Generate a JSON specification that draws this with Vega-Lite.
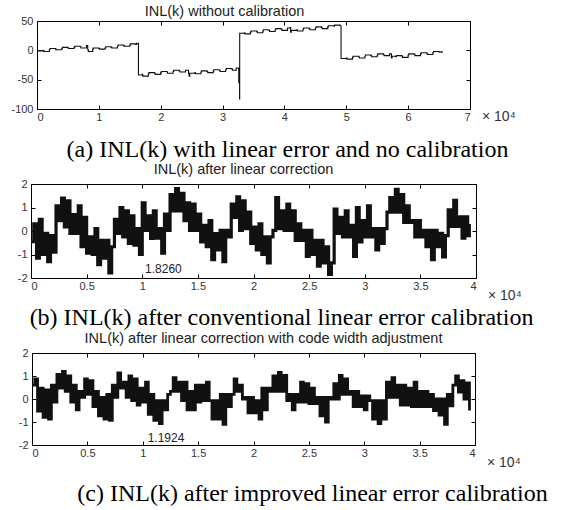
{
  "$schema": "https://vega.github.io/schema/vega-lite/v6.json",
  "background": "white",
  "padding": {"left": 10, "top": 3, "right": 0, "bottom": 0},
  "bounds": "flush",
  "center": true,
  "spacing": 75,
  "config": {
    "view": {"stroke": "#000", "strokeWidth": 1},
    "axis": {"labelFont": "Liberation Sans", "labelFontSize": 11, "labelColor": "#333", "tickColor": "#000", "tickSize": -4, "domain": false, "grid": false, "titleFont": "Liberation Serif", "titleFontSize": 24, "titleFontWeight": "normal", "titleColor": "#000"},
    "axisBottom": {"labelPadding": 6},
    "axisLeft": {"labelPadding": 8},
    "title": {"font": "Liberation Sans", "fontSize": 14.5, "fontWeight": "normal", "color": "#222", "anchor": "middle", "frame": "group"}
  },
  "datasets": {
    "p1": [
      {"x":0,"y":-1},{"x":0.1,"y":0},{"x":0.11,"y":-2},{"x":0.2,"y":1},{"x":0.21,"y":3},{"x":0.3,"y":2},{"x":0.31,"y":1},{"x":0.4,"y":3},{"x":0.41,"y":5},{"x":0.5,"y":4},{"x":0.51,"y":3},{"x":0.6,"y":5},{"x":0.61,"y":7},{"x":0.7,"y":6},{"x":0.71,"y":4},{"x":0.8,"y":8},{"x":0.82,"y":1},{"x":0.83,"y":-2},{"x":0.9,"y":2},{"x":0.91,"y":4},{"x":1.0,"y":3},{"x":1.01,"y":2},{"x":1.1,"y":4},{"x":1.11,"y":6},{"x":1.2,"y":5},{"x":1.21,"y":4},{"x":1.3,"y":7},{"x":1.31,"y":9},{"x":1.4,"y":8},{"x":1.41,"y":7},{"x":1.5,"y":9},{"x":1.51,"y":11},{"x":1.6,"y":10},{"x":1.61,"y":12},
      {"x":1.64,"y":-42},{"x":1.7,"y":-41},{"x":1.71,"y":-44},{"x":1.8,"y":-40},{"x":1.81,"y":-38},{"x":1.9,"y":-39},{"x":1.91,"y":-41},{"x":2.0,"y":-38},{"x":2.01,"y":-36},{"x":2.1,"y":-37},{"x":2.11,"y":-39},{"x":2.2,"y":-36},{"x":2.21,"y":-34},{"x":2.3,"y":-35},{"x":2.31,"y":-37},{"x":2.4,"y":-34},{"x":2.45,"y":-40},{"x":2.46,"y":-44},{"x":2.47,"y":-39},{"x":2.55,"y":-38},{"x":2.56,"y":-40},{"x":2.65,"y":-37},{"x":2.66,"y":-35},{"x":2.75,"y":-36},{"x":2.76,"y":-38},{"x":2.85,"y":-35},{"x":2.86,"y":-33},{"x":2.95,"y":-34},{"x":2.96,"y":-36},{"x":3.05,"y":-33},{"x":3.06,"y":-31},{"x":3.15,"y":-32},{"x":3.16,"y":-34},{"x":3.22,"y":-30},
      {"x":3.26,"y":-34},{"x":3.262,"y":-55},{"x":3.264,"y":-33},{"x":3.266,"y":-54},{"x":3.268,"y":-34},{"x":3.27,"y":-52},{"x":3.275,"y":-83},{"x":3.2768,"y":29},
      {"x":3.35,"y":30},{"x":3.36,"y":28},{"x":3.45,"y":31},{"x":3.46,"y":33},{"x":3.55,"y":32},{"x":3.56,"y":30},{"x":3.65,"y":33},{"x":3.66,"y":35},{"x":3.75,"y":34},{"x":3.76,"y":32},{"x":3.85,"y":35},{"x":3.86,"y":37},{"x":3.95,"y":36},{"x":3.96,"y":34},{"x":4.05,"y":38},{"x":4.09,"y":39},{"x":4.1,"y":31},{"x":4.11,"y":34},{"x":4.2,"y":35},{"x":4.21,"y":33},{"x":4.3,"y":36},{"x":4.31,"y":38},{"x":4.4,"y":37},{"x":4.41,"y":35},{"x":4.5,"y":38},{"x":4.51,"y":40},{"x":4.6,"y":39},{"x":4.61,"y":37},{"x":4.7,"y":40},{"x":4.71,"y":42},{"x":4.8,"y":41},{"x":4.81,"y":43},{"x":4.9,"y":42},
      {"x":4.9152,"y":-14},{"x":5.0,"y":-13},{"x":5.01,"y":-15},{"x":5.1,"y":-12},{"x":5.11,"y":-10},{"x":5.2,"y":-11},{"x":5.21,"y":-13},{"x":5.3,"y":-10},{"x":5.31,"y":-8},{"x":5.4,"y":-9},{"x":5.41,"y":-11},{"x":5.5,"y":-8},{"x":5.51,"y":-6},{"x":5.6,"y":-7},{"x":5.61,"y":-9},{"x":5.7,"y":-6},{"x":5.73,"y":-13},{"x":5.74,"y":-10},{"x":5.8,"y":-11},{"x":5.81,"y":-9},{"x":5.9,"y":-10},{"x":5.91,"y":-12},{"x":6.0,"y":-8},{"x":6.01,"y":-6},{"x":6.1,"y":-7},{"x":6.11,"y":-9},{"x":6.2,"y":-6},{"x":6.21,"y":-4},{"x":6.3,"y":-5},{"x":6.31,"y":-7},{"x":6.4,"y":-4},{"x":6.41,"y":-2},{"x":6.5,"y":-3},{"x":6.55,"y":-1}
    ],
    "p2": [
      {"x":0,"y":-0.45},{"x":0.025,"y":0.3},{"x":0.05,"y":-1.15},{"x":0.075,"y":0.5},{"x":0.1,"y":-1.0},{"x":0.125,"y":-0.1},{"x":0.15,"y":-1.3},{"x":0.175,"y":-0.2},{"x":0.2,"y":-0.9},{"x":0.225,"y":1.07},{"x":0.25,"y":0.44},{"x":0.275,"y":1.4},{"x":0.3,"y":0.17},{"x":0.325,"y":1.28},{"x":0.35,"y":-0.1},{"x":0.375,"y":0.7},{"x":0.4,"y":-0.1},{"x":0.425,"y":1.07},{"x":0.45,"y":-0.67},{"x":0.475,"y":0.58},{"x":0.5,"y":-0.94},{"x":0.525,"y":-0.25},{"x":0.55,"y":-1.0},{"x":0.575,"y":0.1},{"x":0.6,"y":-1.43},{"x":0.625,"y":-0.4},{"x":0.65,"y":-1.15},{"x":0.675,"y":-0.4},{"x":0.7,"y":-1.78},{"x":0.725,"y":-0.67},{"x":0.75,"y":0.5},{"x":0.775,"y":-0.1},{"x":0.8,"y":1.0},{"x":0.825,"y":-0.25},{"x":0.85,"y":0.86},{"x":0.875,"y":-0.53},{"x":0.9,"y":0.65},{"x":0.925,"y":-0.6},{"x":0.95,"y":0.1},{"x":0.975,"y":-1.0},
      {"x":1.0,"y":1.2},{"x":1.025,"y":0.03},{"x":1.05,"y":0.65},{"x":1.075,"y":-0.32},{"x":1.1,"y":0.86},{"x":1.125,"y":-0.3},{"x":1.15,"y":0.1},{"x":1.175,"y":-0.94},{"x":1.2,"y":0.72},{"x":1.225,"y":0.03},{"x":1.25,"y":1.55},{"x":1.275,"y":0.86},{"x":1.3,"y":1.8},{"x":1.325,"y":0.86},{"x":1.35,"y":1.6},{"x":1.375,"y":0.44},{"x":1.4,"y":1.2},{"x":1.425,"y":0.03},{"x":1.45,"y":1.14},{"x":1.475,"y":0.03},{"x":1.5,"y":0.72},{"x":1.525,"y":-0.46},{"x":1.55,"y":0.24},{"x":1.575,"y":-0.67},{"x":1.6,"y":0.44},{"x":1.625,"y":-1.22},{"x":1.65,"y":-0.11},{"x":1.675,"y":-0.8},{"x":1.7,"y":0.03},{"x":1.725,"y":-1.3},{"x":1.75,"y":0.03},{"x":1.775,"y":-0.25},{"x":1.8,"y":1.14},{"x":1.825,"y":0.58},{"x":1.85,"y":1.45},{"x":1.875,"y":0.03},{"x":1.9,"y":1.28},{"x":1.925,"y":0.1},{"x":1.95,"y":0.8},{"x":1.975,"y":-0.53},
      {"x":2.0,"y":0.17},{"x":2.025,"y":-0.8},{"x":2.05,"y":0.3},{"x":2.075,"y":-1.0},{"x":2.1,"y":-0.25},{"x":2.125,"y":-1.36},{"x":2.15,"y":-0.25},{"x":2.175,"y":0.03},{"x":2.2,"y":1.42},{"x":2.225,"y":0.1},{"x":2.25,"y":0.86},{"x":2.275,"y":0.03},{"x":2.3,"y":1.14},{"x":2.325,"y":0.03},{"x":2.35,"y":0.86},{"x":2.375,"y":-0.4},{"x":2.4,"y":0.3},{"x":2.425,"y":-0.4},{"x":2.45,"y":0.03},{"x":2.475,"y":-1.08},{"x":2.5,"y":0.03},{"x":2.525,"y":-1.0},{"x":2.55,"y":-0.4},{"x":2.575,"y":-1.5},{"x":2.6,"y":-0.4},{"x":2.625,"y":-1.36},{"x":2.65,"y":-0.67},{"x":2.675,"y":-1.85},{"x":2.7,"y":-1.36},{"x":2.725,"y":0.93},{"x":2.75,"y":-0.1},{"x":2.775,"y":0.58},{"x":2.8,"y":-0.25},{"x":2.825,"y":0.86},{"x":2.85,"y":-0.25},{"x":2.875,"y":0.24},{"x":2.9,"y":-1.08},{"x":2.925,"y":1.0},{"x":2.95,"y":-0.46},{"x":2.975,"y":0.44},
      {"x":3.0,"y":-0.25},{"x":3.025,"y":1.07},{"x":3.05,"y":-0.25},{"x":3.075,"y":0.1},{"x":3.1,"y":-0.8},{"x":3.125,"y":0.1},{"x":3.15,"y":-0.53},{"x":3.175,"y":0.1},{"x":3.2,"y":0.8},{"x":3.225,"y":1.42},{"x":3.25,"y":0.8},{"x":3.275,"y":1.77},{"x":3.3,"y":0.8},{"x":3.325,"y":1.55},{"x":3.35,"y":0.37},{"x":3.375,"y":1.07},{"x":3.4,"y":0.37},{"x":3.425,"y":0.44},{"x":3.45,"y":-0.25},{"x":3.475,"y":0.44},{"x":3.5,"y":-0.25},{"x":3.525,"y":0.03},{"x":3.55,"y":-0.67},{"x":3.575,"y":0.03},{"x":3.6,"y":-1.22},{"x":3.625,"y":0.03},{"x":3.65,"y":-0.67},{"x":3.675,"y":-0.1},{"x":3.7,"y":-1.1},{"x":3.725,"y":-0.2},{"x":3.75,"y":0.9},{"x":3.775,"y":0.2},{"x":3.8,"y":1.3},{"x":3.825,"y":0.2},{"x":3.85,"y":0.6},{"x":3.875,"y":-0.3},{"x":3.9,"y":0.6},{"x":3.925,"y":-0.2},{"x":3.94,"y":0.3}
    ],
    "p3": [
      {"x":0,"y":0.6},{"x":0.025,"y":0.87},{"x":0.05,"y":-0.53},{"x":0.075,"y":0.47},{"x":0.1,"y":-0.8},{"x":0.125,"y":0.4},{"x":0.15,"y":-0.87},{"x":0.175,"y":0.6},{"x":0.2,"y":-0.13},{"x":0.225,"y":1.07},{"x":0.25,"y":0.47},{"x":0.275,"y":1.2},{"x":0.3,"y":0.33},{"x":0.325,"y":1.0},{"x":0.35,"y":-0.13},{"x":0.375,"y":0.6},{"x":0.4,"y":-0.47},{"x":0.425,"y":0.33},{"x":0.45,"y":0.07},{"x":0.475,"y":0.87},{"x":0.5,"y":0.2},{"x":0.525,"y":0.8},{"x":0.55,"y":-0.33},{"x":0.575,"y":0.33},{"x":0.6,"y":-0.73},{"x":0.625,"y":0.07},{"x":0.65,"y":-0.87},{"x":0.675,"y":0.2},{"x":0.7,"y":-0.93},{"x":0.725,"y":0.6},{"x":0.75,"y":0.07},{"x":0.775,"y":1.13},{"x":0.8,"y":0.47},{"x":0.825,"y":0.73},{"x":0.85,"y":0.07},{"x":0.875,"y":1.0},{"x":0.9,"y":-0.07},{"x":0.925,"y":0.87},{"x":0.95,"y":-0.27},{"x":0.975,"y":0.47},
      {"x":1.0,"y":-0.13},{"x":1.025,"y":0.73},{"x":1.05,"y":-0.67},{"x":1.075,"y":0.2},{"x":1.1,"y":-0.93},{"x":1.125,"y":-0.07},{"x":1.15,"y":-1.07},{"x":1.175,"y":-0.07},{"x":1.2,"y":-0.47},{"x":1.225,"y":0.2},{"x":1.25,"y":0.33},{"x":1.275,"y":0.93},{"x":1.3,"y":0.33},{"x":1.325,"y":0.73},{"x":1.35,"y":-0.07},{"x":1.375,"y":0.73},{"x":1.4,"y":-0.47},{"x":1.425,"y":0.33},{"x":1.45,"y":-0.47},{"x":1.475,"y":0.6},{"x":1.5,"y":-0.13},{"x":1.525,"y":0.6},{"x":1.55,"y":-0.07},{"x":1.575,"y":0.73},{"x":1.6,"y":-0.07},{"x":1.625,"y":-0.87},{"x":1.65,"y":-0.07},{"x":1.675,"y":-0.87},{"x":1.7,"y":0.2},{"x":1.725,"y":-1.1},{"x":1.75,"y":0.2},{"x":1.775,"y":-0.33},{"x":1.8,"y":0.2},{"x":1.825,"y":0.87},{"x":1.85,"y":0.33},{"x":1.875,"y":0.6},{"x":1.9,"y":0.0},{"x":1.925,"y":0.07},{"x":1.95,"y":-0.6},{"x":1.975,"y":0.07},
      {"x":2.0,"y":-0.6},{"x":2.025,"y":-0.07},{"x":2.05,"y":-0.87},{"x":2.075,"y":0.47},{"x":2.1,"y":-0.47},{"x":2.125,"y":0.47},{"x":2.15,"y":0.33},{"x":2.175,"y":1.0},{"x":2.2,"y":0.33},{"x":2.225,"y":1.16},{"x":2.25,"y":0.33},{"x":2.275,"y":1.03},{"x":2.3,"y":-0.07},{"x":2.325,"y":0.2},{"x":2.35,"y":-0.47},{"x":2.375,"y":0.2},{"x":2.4,"y":-0.13},{"x":2.425,"y":0.73},{"x":2.45,"y":-0.13},{"x":2.475,"y":0.67},{"x":2.5,"y":-0.2},{"x":2.525,"y":0.47},{"x":2.55,"y":-0.2},{"x":2.575,"y":0.07},{"x":2.6,"y":-0.73},{"x":2.625,"y":0.07},{"x":2.65,"y":-1.0},{"x":2.675,"y":0.07},{"x":2.7,"y":0.0},{"x":2.725,"y":0.67},{"x":2.75,"y":0.0},{"x":2.775,"y":1.03},{"x":2.8,"y":0.2},{"x":2.825,"y":0.87},{"x":2.85,"y":0.2},{"x":2.875,"y":0.33},{"x":2.9,"y":-0.33},{"x":2.925,"y":0.33},{"x":2.95,"y":-0.33},{"x":2.975,"y":0.13},
      {"x":3.0,"y":-0.47},{"x":3.025,"y":0.13},{"x":3.05,"y":-0.07},{"x":3.075,"y":-0.87},{"x":3.1,"y":-0.07},{"x":3.125,"y":-1.07},{"x":3.15,"y":-0.07},{"x":3.175,"y":-0.87},{"x":3.2,"y":0.73},{"x":3.225,"y":0.07},{"x":3.25,"y":0.93},{"x":3.275,"y":0.07},{"x":3.3,"y":0.6},{"x":3.325,"y":-0.27},{"x":3.35,"y":0.6},{"x":3.375,"y":-0.27},{"x":3.4,"y":0.47},{"x":3.425,"y":-0.33},{"x":3.45,"y":0.73},{"x":3.475,"y":-0.33},{"x":3.5,"y":0.33},{"x":3.525,"y":-0.33},{"x":3.55,"y":0.33},{"x":3.575,"y":-0.33},{"x":3.6,"y":0.2},{"x":3.625,"y":-0.5},{"x":3.65,"y":0.0},{"x":3.675,"y":-0.7},{"x":3.7,"y":0.0},{"x":3.725,"y":-1.1},{"x":3.75,"y":0.2},{"x":3.775,"y":-0.3},{"x":3.8,"y":0.6},{"x":3.825,"y":1.0},{"x":3.85,"y":0.3},{"x":3.875,"y":0.8},{"x":3.9,"y":0.0},{"x":3.925,"y":0.7},{"x":3.95,"y":-0.5}
    ]
  },
  "vconcat": [
    {
      "width": 433, "height": 88,
      "title": {"text": "INL(k) without calibration", "dx": -29, "offset": -4},
      "layer": [
        {
          "data": {"name": "p1"},
          "mark": {"type": "line", "interpolate": "step-after", "color": "#111", "strokeWidth": 1.1},
          "encoding": {
            "x": {"field": "x", "type": "quantitative", "scale": {"domain": [0, 7], "nice": false, "zero": false},
                  "axis": {"orient": "bottom", "values": [0,1,2,3,4,5,6,7], "labelExpr": "'' + datum.value", "title": "(a) INL(k) with linear error and no calibration", "titleX": 250, "titleY": 40, "titleAlign": "center", "titleBaseline": "middle"}},
            "y": {"field": "y", "type": "quantitative", "scale": {"domain": [-100, 50], "nice": false, "zero": false},
                  "axis": {"orient": "left", "values": [-100,-50,0,50], "labelExpr": "'' + datum.value", "title": null}}
          }
        },
        {
          "data": {"values": [{"x": 7, "y": -100, "t": "× 10⁴"}]},
          "mark": {"type": "text", "align": "left", "baseline": "middle", "dx": 12, "dy": 8, "font": "Liberation Sans", "fontSize": 14, "color": "#333"},
          "encoding": {
            "x": {"field": "x", "type": "quantitative", "axis": {"orient": "top", "values": [0,1,2,3,4,5,6,7], "labels": false, "title": null}},
            "y": {"field": "y", "type": "quantitative", "axis": {"orient": "right", "values": [-100,-50,0,50], "labels": false, "title": null}},
            "text": {"field": "t"}
          }
        }
      ],
      "resolve": {"axis": {"x": "independent", "y": "independent"}}
    },
    {
      "width": 445, "height": 94,
      "title": {"text": "INL(k) after linear correction", "dx": -10, "offset": 1},
      "layer": [
        {
          "data": {"name": "p2"},
          "mark": {"type": "line", "interpolate": "step-after", "color": "#111", "strokeWidth": 3.2},
          "encoding": {
            "x": {"field": "x", "type": "quantitative", "scale": {"domain": [0, 4], "nice": false, "zero": false},
                  "axis": {"orient": "bottom", "values": [0,0.5,1,1.5,2,2.5,3,3.5,4], "labelExpr": "'' + datum.value", "title": "(b) INL(k) after conventional linear error calibration", "titleX": 250, "titleY": 39, "titleAlign": "center", "titleBaseline": "middle"}},
            "y": {"field": "y", "type": "quantitative", "scale": {"domain": [-2, 2], "nice": false, "zero": false},
                  "axis": {"orient": "left", "values": [-2,-1,0,1,2], "labelExpr": "'' + datum.value", "title": null}}
          }
        },
        {
          "data": {"values": [{"x": 1.19, "y": -1.62, "t": "1.8260"}]},
          "mark": {"type": "text", "align": "center", "baseline": "middle", "font": "Liberation Sans", "fontSize": 12, "color": "#222"},
          "encoding": {
            "x": {"field": "x", "type": "quantitative", "axis": {"orient": "top", "values": [0,0.5,1,1.5,2,2.5,3,3.5,4], "labels": false, "title": null}},
            "y": {"field": "y", "type": "quantitative", "axis": {"orient": "right", "values": [-2,-1,0,1,2], "labels": false, "title": null}},
            "text": {"field": "t"}
          }
        },
        {
          "data": {"values": [{"x": 4, "y": -2, "t": "× 10⁴"}]},
          "mark": {"type": "text", "align": "left", "baseline": "middle", "dx": 12, "dy": 18, "font": "Liberation Sans", "fontSize": 14, "color": "#333"},
          "encoding": {
            "x": {"field": "x", "type": "quantitative", "axis": null},
            "y": {"field": "y", "type": "quantitative", "axis": null},
            "text": {"field": "t"}
          }
        }
      ],
      "resolve": {"axis": {"x": "independent", "y": "independent"}}
    },
    {
      "width": 443, "height": 92,
      "title": {"text": "INL(k) after linear correction with code width adjustment", "dx": 10, "offset": 1},
      "layer": [
        {
          "data": {"name": "p3"},
          "mark": {"type": "line", "interpolate": "step-after", "color": "#111", "strokeWidth": 2.8},
          "encoding": {
            "x": {"field": "x", "type": "quantitative", "scale": {"domain": [0, 4], "nice": false, "zero": false},
                  "axis": {"orient": "bottom", "values": [0,0.5,1,1.5,2,2.5,3,3.5,4], "labelExpr": "'' + datum.value", "title": "(c) INL(k) after improved linear error calibration", "titleX": 280, "titleY": 48, "titleAlign": "center", "titleBaseline": "middle"}},
            "y": {"field": "y", "type": "quantitative", "scale": {"domain": [-2, 2], "nice": false, "zero": false},
                  "axis": {"orient": "left", "values": [-2,-1,0,1,2], "labelExpr": "'' + datum.value", "title": null}}
          }
        },
        {
          "data": {"values": [{"x": 1.21, "y": -1.7, "t": "1.1924"}]},
          "mark": {"type": "text", "align": "center", "baseline": "middle", "font": "Liberation Sans", "fontSize": 12, "color": "#222"},
          "encoding": {
            "x": {"field": "x", "type": "quantitative", "axis": {"orient": "top", "values": [0,0.5,1,1.5,2,2.5,3,3.5,4], "labels": false, "title": null}},
            "y": {"field": "y", "type": "quantitative", "axis": {"orient": "right", "values": [-2,-1,0,1,2], "labels": false, "title": null}},
            "text": {"field": "t"}
          }
        },
        {
          "data": {"values": [{"x": 4, "y": -2, "t": "× 10⁴"}]},
          "mark": {"type": "text", "align": "left", "baseline": "middle", "dx": 12, "dy": 18, "font": "Liberation Sans", "fontSize": 14, "color": "#333"},
          "encoding": {
            "x": {"field": "x", "type": "quantitative", "axis": null},
            "y": {"field": "y", "type": "quantitative", "axis": null},
            "text": {"field": "t"}
          }
        }
      ],
      "resolve": {"axis": {"x": "independent", "y": "independent"}}
    }
  ]
}
